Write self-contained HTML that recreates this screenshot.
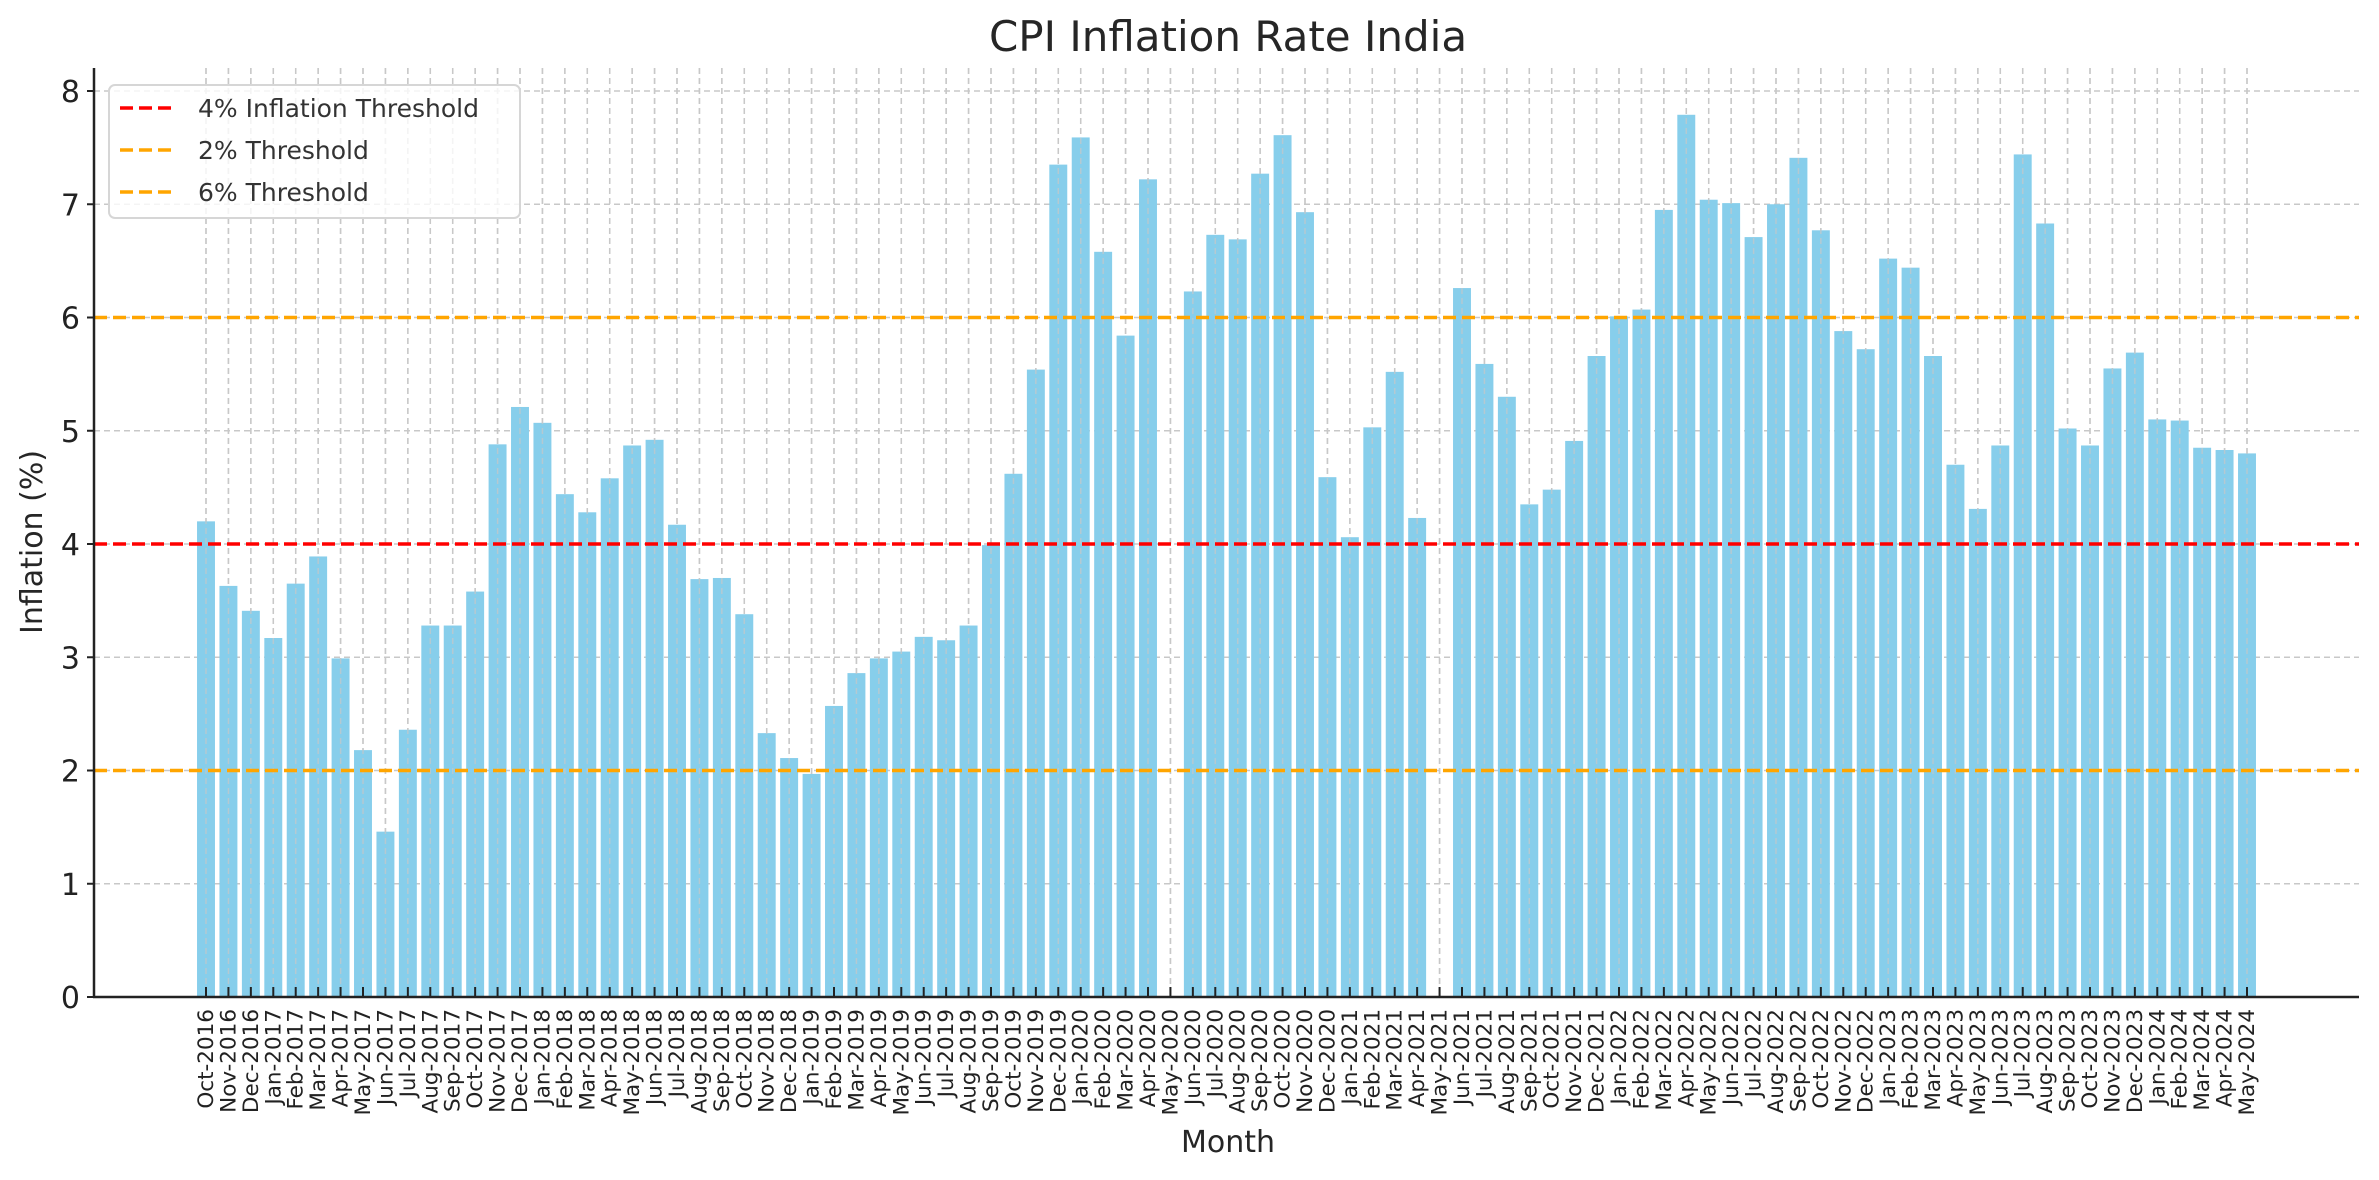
<!DOCTYPE html>
<html><head><meta charset="utf-8"><style>
html,body{margin:0;padding:0;background:#fff;}
svg{display:block;font-family:"DejaVu Sans","Liberation Sans",sans-serif;}
</style></head><body>
<svg id="chart" width="2379" height="1180" xmlns="http://www.w3.org/2000/svg">
<text x="1228" y="51" font-size="42" text-anchor="middle" fill="#262626">CPI Inflation Rate India</text>
<g id="grid"></g><g id="bars"></g><g id="refs"></g><g id="axes"></g>
<text x="1228" y="1152" font-size="30" text-anchor="middle" fill="#262626">Month</text>
<text transform="translate(42,542) rotate(-90)" font-size="30" text-anchor="middle" fill="#262626">Inflation (%)</text>
<g>
<rect x="109" y="85" width="411" height="133" rx="6" fill="#fff" fill-opacity="0.8" stroke="#d6d6d6" stroke-width="2"/>
<line x1="120" y1="108" x2="176" y2="108" stroke="red" stroke-width="3.5" stroke-dasharray="13,6"/>
<text x="198" y="117" font-size="25" fill="#333">4% Inflation Threshold</text>
<line x1="120" y1="150" x2="176" y2="150" stroke="orange" stroke-width="3.5" stroke-dasharray="13,6"/>
<text x="198" y="159" font-size="25" fill="#333">2% Threshold</text>
<line x1="120" y1="192" x2="176" y2="192" stroke="orange" stroke-width="3.5" stroke-dasharray="13,6"/>
<text x="198" y="201" font-size="25" fill="#333">6% Threshold</text>
</g>
</svg>
<script>
const values = [4.20,3.63,3.41,3.17,3.65,3.89,2.99,2.18,1.46,2.36,3.28,3.28,3.58,4.88,5.21,5.07,4.44,4.28,4.58,4.87,4.92,4.17,3.69,3.70,3.38,2.33,2.11,1.97,2.57,2.86,2.99,3.05,3.18,3.15,3.28,3.99,4.62,5.54,7.35,7.59,6.58,5.84,7.22,null,6.23,6.73,6.69,7.27,7.61,6.93,4.59,4.06,5.03,5.52,4.23,null,6.26,5.59,5.30,4.35,4.48,4.91,5.66,6.01,6.07,6.95,7.79,7.04,7.01,6.71,7.00,7.41,6.77,5.88,5.72,6.52,6.44,5.66,4.70,4.31,4.87,7.44,6.83,5.02,4.87,5.55,5.69,5.10,5.09,4.85,4.83,4.80];
const yTicks = [0,1,2,3,4,5,6,7,8];
const thresholds = [4,2,6];
const thresholdColors = ["red","orange","orange"];
const monthNames = ["Jan","Feb","Mar","Apr","May","Jun","Jul","Aug","Sep","Oct","Nov","Dec"];
const categories = [];
(function(){let m=9,y=2016;for(let i=0;i<values.length;i++){categories.push(monthNames[m]+"-"+y);m++;if(m===12){m=0;y++;}}})();

const NS="http://www.w3.org/2000/svg";
const L=94,R=2359,T=68,B=997,Y0=997,Y8=91,X0=206,XN=2247;
const step=(XN-X0)/(values.length-1);
const xs=i=>X0+i*step;
const ys=v=>Y0-(Y0-Y8)*v/8;
function mk(tag,attrs,parent){const e=document.createElementNS(NS,tag);for(const k in attrs)e.setAttribute(k,attrs[k]);parent.appendChild(e);return e;}
const grid=document.getElementById('grid'),bars=document.getElementById('bars'),refs=document.getElementById('refs'),axes=document.getElementById('axes');
yTicks.forEach(t=>{const g=mk('line',{x1:L,x2:R,y1:ys(t),y2:ys(t),stroke:'#c8c8c8','stroke-width':1.5,'stroke-dasharray':'6,4'},grid);

});
categories.forEach((c,i)=>{const g=mk('line',{x1:xs(i),x2:xs(i),y1:T,y2:B,stroke:'#c8c8c8','stroke-width':1.5,'stroke-dasharray':'6,4'},grid);

});
const bw=step*0.8;
values.forEach((v,i)=>{if(v==null)return;const r=mk('rect',{x:xs(i)-bw/2,y:ys(v),width:bw,height:ys(0)-ys(v),fill:'#87ceeb'},bars);

});
categories.forEach((c,i)=>{const g=mk('line',{x1:xs(i),x2:xs(i),y1:T,y2:B,stroke:'#c8c8c8','stroke-width':1.5,'stroke-dasharray':'6,4','stroke-opacity':0.7},bars);

});
thresholds.forEach((t,k)=>{const l=mk('line',{x1:L,x2:R,y1:ys(t),y2:ys(t),stroke:thresholdColors[k],'stroke-width':3.5,'stroke-dasharray':'13,6'},refs);

});
const ya=mk('line',{x1:L,x2:L,y1:T,y2:B+1,stroke:'#222','stroke-width':2.5},axes);


const xa=mk('line',{x1:L-1,x2:R,y1:B,y2:B,stroke:'#222','stroke-width':2.5},axes);


yTicks.forEach(t=>{mk('line',{x1:L-7,x2:L,y1:ys(t),y2:ys(t),stroke:'#222','stroke-width':2},axes);
const tx=mk('text',{x:L-14,y:ys(t)+11,'font-size':30,'text-anchor':'end',fill:'#222'},axes);tx.textContent=t;

});
categories.forEach((c,i)=>{mk('line',{x1:xs(i),x2:xs(i),y1:B-10,y2:B,stroke:'#222','stroke-width':2},axes);
const tx=mk('text',{transform:`translate(${xs(i)+7},${B+12}) rotate(-90)`,'font-size':21.5,'text-anchor':'end',fill:'#222'},axes);tx.textContent=c;

});
</script>
</body></html>
